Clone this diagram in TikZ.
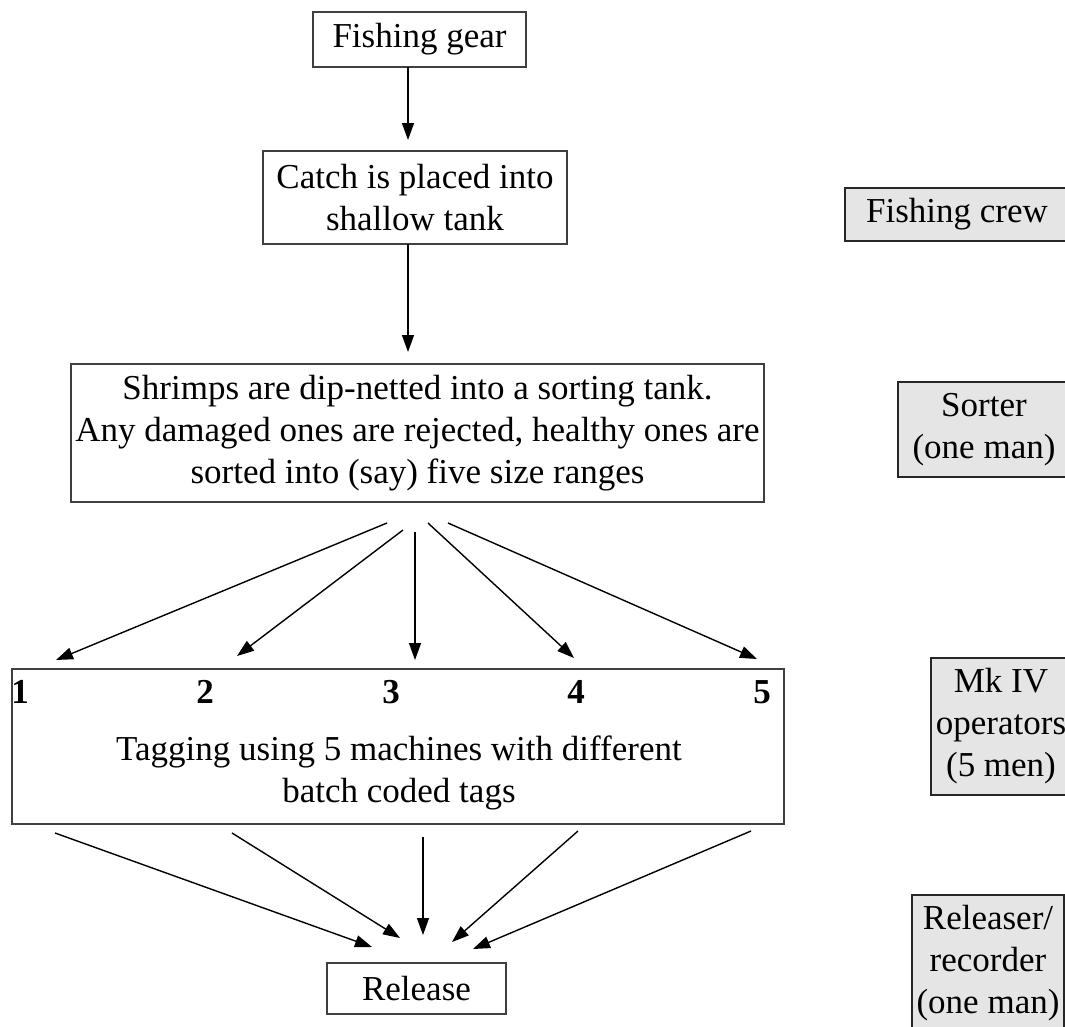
\documentclass[tikz,border=0pt]{standalone}
\usepackage{fontspec}
\setmainfont{Liberation Serif}
\usetikzlibrary{arrows.meta}
\begin{document}
\begin{tikzpicture}[x=1pt,y=-1pt,
  box/.style={draw=black!75, line width=1.4pt, align=center, inner sep=0pt,
    font=\fontsize{35}{42}\selectfont},
  role/.style={box, draw=black!85, fill=black!10},
  plain/.style={align=center, inner sep=0pt, font=\fontsize{35}{42}\selectfont},
  num/.style={font=\fontsize{35}{42}\selectfont\bfseries, anchor=base, inner sep=0pt},
  arr/.style={line width=1.4pt, -{Triangle[length=17pt,width=12pt]}}]
\useasboundingbox (0,0) rectangle (1065,1026);

% main flow boxes
\node[box, minimum width=213pt, minimum height=55pt] (gear) at (419.5,39.5) {Fishing gear};
\node[box, minimum width=304pt, minimum height=93pt] (catch) at (415,197.5) {Catch is placed into\\shallow tank};
\node[box, minimum width=693pt, minimum height=138pt] (sort) at (417.5,433)
  {Shrimps are dip-netted into a sorting tank.\\Any damaged ones are rejected, healthy ones are\\sorted into (say) five size ranges};
\node[box, minimum width=772pt, minimum height=155pt] (tag) at (398,746.5) {};
\node[plain] (tagtext) at (399,772.5) {Tagging using 5 machines with different\\batch coded tags};
\node[box, minimum width=179pt, minimum height=51pt] (rel) at (416.5,988.5) {Release};

% machine numbers
\node[num] (n1) at (20,703) {1};
\node[num] (n2) at (205,703) {2};
\node[num] (n3) at (391,703) {3};
\node[num] (n4) at (576,703) {4};
\node[num] (n5) at (762,703) {5};

% role boxes (clipped by page edge)
\node[role, minimum width=224pt, minimum height=53pt] (crew) at (957,214.5) {Fishing crew};
\node[role, minimum width=172pt, minimum height=95pt] (sorter) at (984,429.5) {Sorter\\(one man)};
\node[role, minimum width=140pt, minimum height=137pt] (ops) at (1001,726.5) {Mk IV\\operators\\(5 men)};
\node[role, minimum width=152pt, minimum height=137pt] (relr) at (988,963.5) {Releaser/\\recorder\\(one man)};

% connector end points
\coordinate (a1s) at (408,67);   \coordinate (a1t) at (408,140);
\coordinate (a2s) at (408,244);  \coordinate (a2t) at (408,352);
\coordinate (f1s) at (387,523);  \coordinate (f1t) at (56,660);
\coordinate (f2s) at (403,530);  \coordinate (f2t) at (237,656);
\coordinate (f3s) at (415,532);  \coordinate (f3t) at (415,660);
\coordinate (f4s) at (428,523);  \coordinate (f4t) at (574,658);
\coordinate (f5s) at (448,523);  \coordinate (f5t) at (757,659);
\coordinate (b1s) at (55,833);   \coordinate (b1t) at (372,947);
\coordinate (b2s) at (232,833);  \coordinate (b2t) at (400,938);
\coordinate (b3s) at (423,837);  \coordinate (b3t) at (423,935);
\coordinate (b4s) at (578,831);  \coordinate (b4t) at (452,942);
\coordinate (b5s) at (751,831);  \coordinate (b5t) at (473,949);

\draw[arr] (a1s) -- (a1t);
\draw[arr] (a2s) -- (a2t);
\foreach \i in {1,...,5} {
  \draw[arr] (f\i s) -- (f\i t);
  \draw[arr] (b\i s) -- (b\i t);
}
\end{tikzpicture}
\end{document}
